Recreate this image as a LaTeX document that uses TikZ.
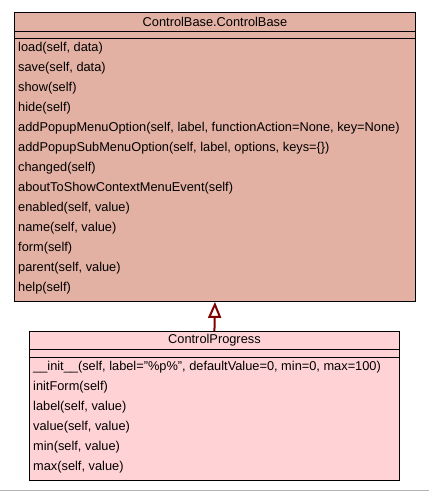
\documentclass[tikz,border=0pt]{standalone}
\usepackage{fontspec}
\setmainfont{Liberation Sans}
\usetikzlibrary{arrows.meta,positioning}

\definecolor{basefill}{RGB}{227,177,163}
\definecolor{progfill}{RGB}{255,211,214}
\definecolor{inheritred}{RGB}{128,0,0}

\tikzset{
  classbox/.style={draw=black, line width=0.9pt, rectangle, inner sep=0pt, anchor=north west},
  classname/.style={inner sep=0pt, font=\fontsize{12.8}{14}\selectfont},
  method/.style={anchor=west, inner sep=0pt, font=\fontsize{12.8}{14}\selectfont},
}

\begin{document}
\begin{tikzpicture}[x=1pt,y=-1pt]
  \useasboundingbox (0,0) rectangle (429,491);
  \fill[white] (0,0) rectangle (429,491);

  % ControlBase.ControlBase
  \node[classbox, fill=basefill, minimum width=401pt, minimum height=289pt] (base) at (14,12) {};
  \node[classname] (basetitle) at ([yshift=-10pt]base.north) {ControlBase.ControlBase};
  \draw[line width=0.9pt] ([yshift=-19pt]base.north west) -- ([yshift=-19pt]base.north east);
  \draw[line width=0.9pt] ([yshift=-26pt]base.north west) -- ([yshift=-26pt]base.north east);
  \foreach \m [count=\i] in {{load(self, data)}, {save(self, data)}, {show(self)}, {hide(self)},
      {addPopupMenuOption(self, label, functionAction=None, key=None)},
      {addPopupSubMenuOption(self, label, options, keys=\{\})},
      {changed(self)}, {aboutToShowContextMenuEvent(self)}, {enabled(self, value)},
      {name(self, value)}, {form(self)}, {parent(self, value)}, {help(self)}}
    \node[method] (base-m\i) at ([xshift=4pt, yshift={-16pt-20pt*\i}]base.north west) {\m};

  % ControlProgress
  \node[classbox, fill=progfill, minimum width=370pt, minimum height=149pt] (prog) at (29,331) {};
  \node[classname] (progtitle) at ([yshift=-9.5pt]prog.north) {ControlProgress};
  \draw[line width=0.9pt] ([yshift=-18pt]prog.north west) -- ([yshift=-18pt]prog.north east);
  \draw[line width=0.9pt] ([yshift=-26pt]prog.north west) -- ([yshift=-26pt]prog.north east);
  \foreach \m [count=\i] in {{\_\_init\_\_(self, label="\%p\%", defaultValue=0, min=0, max=100)},
      {initForm(self)}, {label(self, value)}, {value(self, value)},
      {min(self, value)}, {max(self, value)}}
    \node[method] (prog-m\i) at ([xshift=4pt, yshift={-16pt-20pt*\i}]prog.north west) {\m};

  % inheritance
  \draw[inheritred, line width=2pt, -{Triangle[open, width=13pt, length=16pt, line width=2pt]}] (prog.north) -- (base.south);

  \draw[gray!60, line width=1pt] (0,490) -- (429,490);
\end{tikzpicture}
\end{document}
